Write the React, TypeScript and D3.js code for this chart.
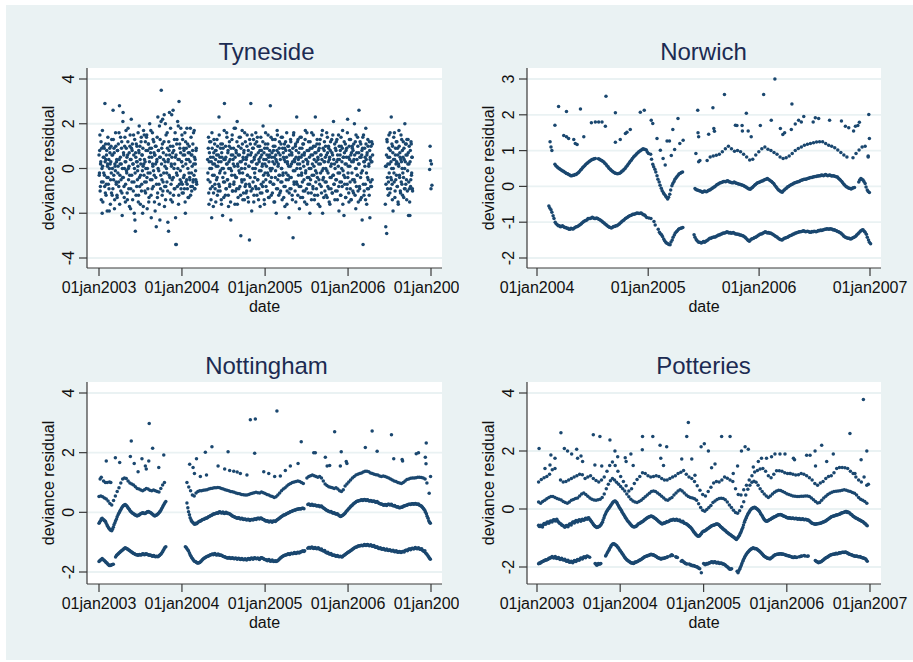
import React from 'react';
import * as d3 from 'd3';

// ---------------- DATA ----------------
// Dates are day offsets from a base date; values are deviance residuals.

// Tyneside (base 01jan2003)
const TYN_A_FROM = 0, TYN_A_STEP = 2;
const TYN_A = [
  0.6, -0.2, 1.5, -0.8, 0.3, -1.4, 0.9, -2.0, 0.1, -0.6, 1.0, 0.5, -0.3, 2.9, -1.1, 0.4, -0.7, 0.8, -1.9, 0.2,
  -0.4, 1.1, -0.9, 0.0, 0.7, -1.6, 0.3, -0.2, 1.3, -1.2, 0.6, 2.6, -0.5, 0.9, -1.8, 0.2, -0.1, 1.0, -0.7, 0.4,
  -1.3, 0.8, 0.1, -0.6, 1.6, 2.8, -0.3, 0.5, -1.0, 0.2, 1.2, -2.1, -0.4, 2.5, 0.7, -0.8, 0.0, 1.4, -1.5, 0.3,
  0.9, -0.2, -1.1, 0.6, 1.8, -0.5, 0.1, -1.7, 1.0, 0.4, -0.9, 2.2, -0.3, 0.8, -1.4, 0.2, 1.5, -0.6, 0.0, -2.3,
  -2.8, 0.5, 1.1, -0.8, 0.3, -0.1, 1.6, -1.2, 0.7, -0.4, 1.0, -1.6, 0.2, 1.4, -0.7, 0.6, -2.0, 0.1, 1.7, -0.3,
  0.4, -1.0, 1.2, 0.0, -0.6, 1.5, -1.8, 0.8, -0.2, 1.1, -1.3, 0.3, 0.9, -0.5, 1.7, -2.2, 0.5, -0.9, 0.2, 1.3,
  -0.1, 0.7, -1.5, 0.6, 1.0, -0.4, -2.6, 0.3, 1.4, -1.1, 0.0, 0.8, -0.7, 1.9, -2.3, 0.5, -0.3, 3.5, 0.9, -1.2,
  2.2, -0.6, 0.4, 1.2, -1.7, 0.1, 2.0, -0.8, 0.6, -0.2, 1.6, -1.0, 0.3, -2.8, 0.8, 2.5, -0.4, 1.0, -1.4, 0.2,
  2.4, -0.5, 0.7, 2.6, -1.2, 0.0, 1.3, -0.9, 0.5, -3.4, -3.4, 1.1, -0.3, 2.1, 0.4, -1.6, 3.0, -0.7, 0.9, -0.1,
  1.8, -0.6, 0.3, -1.1, 1.3, 0.6, -0.4, 0.8, -0.9, 1.6, -2.0, 0.2, 0.9, -0.5, -0.7, 1.1, -1.3, 0.4, -0.2, 0.7,
  -0.5, 1.8, -0.8, 0.6, -1.0, 0.1, 0.8, -0.6, 1.6, -0.3, 0.5, -0.9, 0.2, -0.5, 0.9, -0.7,
];
const TYN_A2_FROM = 1, TYN_A2_STEP = 2;
const TYN_A2 = [
  -0.3, 0.8, -1.0, 0.2, 1.2, -0.6, 0.0, 1.7, -1.5, 0.5, -0.2, 0.9, -0.8, 0.3, 1.1, -1.2, 0.6, -0.4, 0.1, 1.4,
  -0.7, 0.4, -1.9, 0.9, 0.2, -0.5, 1.0, -1.1, 0.6, 0.0, -0.9, 1.3, -0.3, 0.7, -1.4, 0.1, 1.6, -0.6, 0.3, -1.2,
  0.8, -0.2, 1.1, -0.8, 0.4, -1.6, 0.2, 1.4, -0.5, 0.9, -1.1, 0.0, 2.1, -0.4, 0.6, -1.3, 1.0, 0.3, -0.7, 1.7,
  -0.1, 0.5, -1.4, 1.2, 0.0, -0.9, 0.7, -0.3, 1.5, -1.8, 0.4, 0.9, -0.6, 1.1, 0.2, -1.0, 0.6, -2.0, 1.3, -0.2,
  0.7, -1.2, 0.3, 1.0, -0.5, 0.1, -1.5, 0.8, 1.9, -0.8, 0.4, -0.3, 1.2, -1.0, 0.6, -0.1, 0.9, -1.7, 0.2, 1.5,
  -0.6, 0.3, -1.1, 0.8, 1.4, -0.4, 0.0, -0.9, 1.1, -1.5, 0.5, 2.0, -0.2, 0.7, -1.2, 0.9, -0.5, 1.6, 0.1, -0.8,
  1.2, -0.3, 0.6, -1.9, 0.2, 1.0, -0.7, 0.4, -1.3, 2.3, 0.8, -0.1, -1.6, 0.5, 1.3, -0.9, 2.1, 0.2, -0.5, 1.1,
  -1.0, 0.7, -0.2, 2.4, -0.8, 0.3, -1.4, 1.5, 0.0, -0.6, 0.9, -2.4, 0.4, 1.2, -0.3, 0.6, -1.1, 1.8, -0.7, 0.1,
  0.5, -1.5, 1.0, -0.4, 0.8, -0.9, 0.2, 1.6, -2.2, 0.6, -0.2, 1.3, -0.8, 0.0, 1.9, -1.2, 0.4, 1.1, -0.5, 0.7,
  -0.9, 0.3, 1.5, -0.7, 0.1, -1.1, 0.9, -0.3, 0.6, -1.5, 1.2, -0.6, 0.4, 1.8, -0.9, 0.0, 0.7, -1.3, 1.0, -0.4,
  0.3, -1.2, 1.4, -0.2, 0.6, -0.8, 1.1, -0.5, 0.2, 1.7, -0.9, 0.4, -0.1, 0.8, -0.6,
];
const TYN_B_FROM = 478, TYN_B_STEP = 2;
const TYN_B = [
  0.4, -0.5, 1.4, -1.6, 0.7, 0.0, -0.9, 1.2, 0.3, -2.2, 0.9, -0.3, 0.5, -1.1, 1.3, 0.2, -0.7, 0.8, -1.5, 0.1,
  0.6, -0.4, 1.0, -1.0, 0.3, 2.3, -0.8, 0.5, -0.1, 1.1, -1.4, 0.7, 0.0, -2.1, 0.9, -0.6, 0.4, 2.9, -0.2, -1.2,
  0.5, -0.9, 1.6, 0.2, -0.5, 0.8, -1.7, 0.3, 1.2, -0.7, 0.0, -2.3, 0.6, -0.3, 1.5, -1.0, 0.4, 0.9, -0.6, 0.1,
  -1.6, 1.8, -0.4, 0.7, -0.9, 2.1, 0.2, -1.3, 1.0, -0.1, 0.6, -0.8, 1.4, -3.0, 0.3, -0.5, 1.7, -0.2, 0.5, -1.1,
  0.8, -1.4, 0.0, 1.2, -0.7, 0.4, -1.0, 1.5, -0.3, 0.6, -1.5, 0.1, -3.2, -0.8, 1.1, 2.9, 0.7, -1.9, 0.3, 0.9,
  -0.6, 1.3, -1.2, 0.5, -0.4, 0.0, 1.6, -0.9, 1.2, 0.2, -0.5, 1.0, -1.4, 0.4, -0.1, 0.8, -1.1, 1.4, -0.7, 0.6,
  0.1, -0.8, 1.9, -0.3, 0.7, -1.6, 0.2, 1.1, -0.5, 0.4, -1.0, 0.9, -0.2, 1.5, -1.3, 0.3, 0.6, -0.6, 2.8, -0.1,
  -1.2, 0.5, 0.0, 1.3, -0.7, 0.8, -1.5, 0.2, 1.0, -0.4, 0.6, -2.0, 0.3, 1.7, -0.9, 0.1, 0.7, -0.3, 1.2, -1.1,
  0.4, -0.6, 1.4, 0.0, -1.4, 0.9, -0.2, 0.5, -0.8, 1.1, -1.7, 0.3, 0.8, -0.5, 1.6, -1.0, 0.2, -0.3, 1.0, -2.2,
  0.6, -0.9, 0.1, 1.2, -0.4, 0.7, -1.2, 0.3, -3.1, 1.5, -0.6, 0.4, -0.1, 1.0, -1.5, 0.8, 2.3, -0.7, 0.2, 1.3,
  -0.3, 0.5, -1.8, 0.9, 0.0, -0.8, 1.4, -0.2, 0.6, -1.3, 0.3, 1.1, -0.5, 0.7, -1.0, 1.7, -0.1, 0.4, -1.6, 0.8,
  0.2, -0.7, 1.2, -0.4, 0.5, -2.0, 0.9, 0.0, -1.1, 1.6, -0.3, 0.6, -0.9, 1.0, 0.1, -1.4, 0.7, 2.3, -0.6, 0.3,
  -0.2, 1.3, -1.2, 0.4, 0.8, -0.5, 1.1, -1.7, 0.2, 0.6, -0.8, 1.5, -0.1, -2.0, 0.9, -0.4, 0.3, 1.2, -1.0, 0.5,
  0.0, -0.6, 1.6, -1.3, 0.7, -0.2, 1.0, -0.9, 0.4, -1.6, 0.8, 0.1, -0.4, 1.3, -1.1, 0.6, -0.3, 2.1, -0.7, 0.2,
  -1.4, 0.9, -0.5, 1.2, 0.3, -1.0, 0.6, -0.2, 1.5, -1.9, 0.4, -0.6, 0.8, -1.2, 1.0, 0.0, -0.8, 1.7, -0.1, 0.5,
  -2.1, 0.7, -0.4, 1.1, -1.3, 0.2, 0.9, -0.7, 2.2, -0.2, 0.5, -1.5, 1.3, 0.1, -0.9, 0.6, -1.4, 0.3, 1.0, -0.5,
  0.8, -1.1, 0.4, 2.0, -0.6, 1.2, -1.8, 0.0, 0.7, -0.3, 1.4, -1.0, 0.2, 2.6, -0.8, 0.5, -1.4, 1.1, -0.2, 0.6,
  -2.3, 0.9, -3.4, 1.5, -1.2, 0.3, 0.1, -0.7, 1.8, 0.4, -1.6, 0.7, -0.4, 1.0, -0.9, 0.2, 1.2, -2.2, 0.5, -0.8,
  0.3, 1.2, -0.5, 0.6,
];
const TYN_B2_FROM = 479, TYN_B2_STEP = 2;
const TYN_B2 = [
  -0.2, 0.9, -1.1, 0.3, 1.2, -0.6, 0.5, -1.4, 0.0, 1.6, -0.8, 0.2, -1.7, 0.7, -0.3, 1.1, -0.9, 0.4, 0.8, -0.5,
  1.3, -1.2, 0.1, 0.6, -0.7, 1.5, -0.2, -1.0, 0.9, 0.3, -1.6, 0.5, 1.1, -0.4, 0.0, -1.3, 1.7, -0.6, 0.4, 1.0,
  -0.9, 0.2, 1.4, -0.5, 0.7, -1.2, 0.0, 1.0, -0.8, 0.4, -1.5, 0.9, -0.1, 1.3, -1.0, 0.6, 0.2, -0.7, 1.8, -0.3,
  0.5, -1.0, 0.8, -0.4, 1.2, -1.6, 0.1, 0.6, -0.9, 1.4, -0.2, 0.3, -1.2, 0.9, 0.0, -0.6, 1.1, -1.4, 0.4, 0.7,
  -0.5, 1.6, -0.8, 0.2, -1.1, 0.5, 1.0, -0.3, -1.3, 0.8, 0.1, -0.7, 1.3, -0.4, 0.6, -1.0, 0.3, 1.5, -0.9, 0.0,
  0.9, -1.5, 0.4, -0.2, 1.1, -0.8, 0.6, 0.2, -1.2, 1.4, -0.5, 0.7, -0.9, 0.3, 1.0, -1.7, 0.5, -0.1, 0.8, -1.1,
  0.2, 1.2, -0.6, 0.4, -1.4, 0.9, -0.2, 1.6, -0.8, 0.1, 0.6, -1.0, 1.1, -0.3, 0.5, -1.3, 0.8, 0.0, -0.6, 1.4,
  -0.4, 0.7, -1.1, 0.3, 1.0, -0.7, 0.5, -1.5, 1.3, -0.1, 0.4, -0.9, 0.8, 1.5, -0.5, 0.2, -1.2, 0.9, -0.3, 0.6,
  -1.0, 1.1, 0.0, -0.6, 1.4, -0.3, 0.7, -1.3, 0.4, 0.9, -0.8, 1.2, -0.2, 0.5, -1.6, 0.3, 1.0, -0.5, 0.1, -1.1,
  0.8, -0.4, 1.3, -0.9, 0.2, 0.6, -1.4, 0.9, -0.1, 1.6, -0.7, 0.3, -1.0, 1.1, 0.5, -0.6, 0.0, 1.2, -1.2, 0.4,
  0.7, -0.8, 0.2, 1.4, -1.3, 0.5, -0.3, 0.9, -0.6, 1.1, -1.0, 0.1, 0.6, -1.5, 1.3, -0.2, 0.4, -0.9, 1.6, -0.4,
  0.3, -1.1, 0.8, 0.0, -0.7, 1.2, -0.5, 0.6, -1.4, 0.9, 0.2, -0.8, 1.5, -0.3, 0.4, -1.2, 1.0, -0.1, 0.7, -0.9,
  1.1, -0.4, 0.5, -1.6, 0.2, 0.9, -0.7, 1.3, -0.2, 0.6, -1.1, 0.4, 1.7, -0.5, 0.0, -1.3, 0.8, 0.3, -0.6, 1.0,
  -1.2, 0.6, -0.1, 1.4, -0.8, 0.3, 0.9, -1.5, 0.5, -0.4, 1.2, -0.9, 0.2, 0.7, -1.1, 1.5, -0.3, 0.4, -0.7, 1.1,
  0.0, -1.0, 0.8, -0.5, 1.3, -1.4, 0.4, 0.1, -0.8, 1.0, -0.2, 0.6, -1.2, 1.4, -0.6, 0.3, 0.9, -1.6, 0.5, -0.3,
  1.2, -0.7, 0.2, -1.3, 0.8, 0.5, -0.9, 1.6, -0.4, 0.1, -1.1, 1.0, 0.4, -0.6, 1.3, -1.4, 0.7, -0.2, 0.9, -1.0,
  0.3, 1.1, -0.5, 0.6, -1.2, 0.0, 1.5, -0.8, 0.4, -0.3, 1.0, -1.5, 0.7, 0.2, -0.9, 1.2, -0.4, 0.5, -1.3, 0.8,
  -0.1, 1.4, -0.7, 0.3, -1.0, 0.9, 0.5, -1.4, 1.1, -0.2, 0.6, -0.9, 1.3, -0.5, 0.1, -1.2, 0.8, 0.4, -0.6, 1.0,
  -0.8, 0.3, 1.1,
];
const TYN_C_FROM = 1260, TYN_C_STEP = 2;
const TYN_C = [
  -1.6, -2.6, 0.1, -2.9, 1.2, -0.9, 0.5, -0.6, 1.5, 0.2, -1.1, 0.8, -0.4, 2.3, 0.0, -0.7, 1.0, -1.9, 0.4, -0.2,
  1.6, -1.3, 0.6, -0.5, 1.2, 0.3, -0.8, 0.9, -1.5, 0.2, 1.7, -0.3, 0.7, -1.0, 0.4, -0.6, 1.3, 0.0, -1.2, 0.5,
  -0.4, 0.9, -0.9, 2.0, 0.3, -0.7, 1.1, -1.4, 0.6, -0.1, 1.3, -2.1, 0.2, -0.9, -2.1, 0.8, -0.5, 1.1, -0.2, 0.5, -1.0,
];
const TYN_C2_FROM = 1261, TYN_C2_STEP = 2;
const TYN_C2 = [
  0.1, -0.7, 0.6, 1.3, -0.4, 0.2, -1.2, 0.9, -0.2, 0.5, 1.6, -0.9, 0.3, -0.5, 1.1, -1.4, 0.7, 0.0, 1.4, -0.6,
  0.4, -1.0, 0.9, 0.2, -0.3, 1.2, -0.8, 0.6, -1.6, 0.1, 1.0, -0.4, 0.5, -1.1, 1.5, 0.3, -0.7, 0.8, -0.2, 1.2,
  -1.3, 0.4, 0.0, -0.9, 1.1, 0.6, -0.5, 1.3, -1.0, 0.2, 0.7, -0.6, 1.0, -1.5, 0.3, -0.8, 1.2, -0.3, 0.5, -0.9,
];
const TYN_D: [number, number][] = [[1455, -0.05], [1457, 1.0], [1459, 0.35], [1461, -0.9], [1463, 0.2], [1465, -0.75]];

// Norwich (base 01jan2004)
const NOR_C0_A_FROM = 39, NOR_C0_A_STEP = 7;
const NOR_C0_A = [
  -0.55, -0.65, -0.82, -1.0, -1.07, -1.1, -1.12, -1.13, -1.15, -1.17, -1.2, -1.18, -1.16, -1.13, -1.1, -1.06,
  -1.0, -0.96, -0.93, -0.9, -0.88, -0.88, -0.9, -0.9, -0.93, -0.97, -1.02, -1.07, -1.12, -1.15, -1.14, -1.12,
  -1.1, -1.06, -1.0, -0.95, -0.9, -0.86, -0.82, -0.8, -0.78, -0.76, -0.75, -0.75, -0.77, -0.8, -0.87,
  -0.88, -0.9, null, -1.08, null, -1.28, -1.35, -1.47, -1.56, -1.6, -1.63, -1.5, -1.36, -1.27, -1.2, -1.17, -1.15,
];
const NOR_C0_A2_FROM = 42, NOR_C0_A2_STEP = 7;
const NOR_C0_A2 = [
  -0.6, -0.72, -0.9, -1.04, -1.1, -1.13, -1.1, -1.15, -1.17, -1.2, -1.17, -1.19, -1.14, -1.12, -1.08, -1.03,
  -0.98, -0.95, -0.9, -0.9, -0.86, -0.9, -0.88, -0.92, -0.95, -1.0, -1.05, -1.1, -1.14, -1.16, -1.12, -1.1,
  -1.08, -1.03, -0.97, -0.93, -0.88, -0.84, -0.81, -0.78, -0.77, -0.74, -0.76, -0.74, -0.79, -0.83, null,
  null, null, -0.98, null, -1.2, -1.32, -1.4, -1.52, -1.59, -1.62, -1.55, -1.42, -1.3, -1.24, -1.18, -1.16, null,
];
const NOR_C0_B_FROM = 517, NOR_C0_B_STEP = 7;
const NOR_C0_B = [
  -1.35, -1.48, -1.55, -1.57, -1.56, -1.56, -1.52, -1.47, -1.45, -1.42, -1.41, -1.38, -1.36, -1.33, -1.3, -1.29,
  -1.28, -1.29, -1.3, -1.31, -1.33, -1.34, -1.36, -1.38, -1.42, -1.48, -1.53, -1.47, -1.45, -1.42, -1.38, -1.34,
  -1.32, -1.29, -1.28, -1.29, -1.3, -1.34, -1.38, -1.41, -1.46, -1.49, -1.47, -1.44, -1.42, -1.38, -1.36, -1.33,
  -1.3, -1.28, -1.27, -1.25, -1.25, -1.26, -1.27, -1.28, -1.27, -1.26, -1.25, -1.24, -1.23, -1.21, -1.2, -1.19,
  -1.18, -1.2, -1.21, -1.24, -1.27, -1.3, -1.36, -1.41, -1.44, -1.45, -1.46, -1.43, -1.39, -1.33, -1.27, -1.22,
  -1.25, -1.34, -1.5, -1.6,
];
const NOR_C0_B2_FROM = 520, NOR_C0_B2_STEP = 7;
const NOR_C0_B2 = [
  -1.42, -1.52, -1.56, -1.58, -1.54, -1.53, -1.5, -1.45, -1.43, -1.41, -1.39, -1.36, -1.34, -1.31, -1.3, -1.27,
  -1.3, -1.31, -1.29, -1.33, -1.34, -1.36, -1.37, -1.4, -1.45, -1.51, -1.5, -1.46, -1.43, -1.4, -1.36, -1.33,
  -1.3, -1.27, -1.3, -1.31, -1.32, -1.36, -1.4, -1.44, -1.48, -1.5, -1.45, -1.43, -1.4, -1.37, -1.34, -1.31,
  -1.29, -1.27, -1.26, -1.24, -1.27, -1.25, -1.28, -1.26, -1.25, -1.27, -1.23, -1.22, -1.22, -1.2, -1.18, -1.2,
  -1.19, -1.22, -1.23, -1.26, -1.29, -1.33, -1.39, -1.43, -1.45, -1.47, -1.44, -1.41, -1.36, -1.3, -1.24, -1.21,
  -1.28, -1.42, -1.56, null,
];
const NOR_C1_A_FROM = 59, NOR_C1_A_STEP = 7;
const NOR_C1_A = [
  0.62, 0.55, 0.5, 0.46, 0.42, 0.38, 0.35, 0.32, 0.3, 0.31, 0.33, 0.38, 0.45, 0.52, 0.58, 0.64, 0.69, 0.73, 0.76,
  0.78, null, 0.76, 0.72, 0.68, 0.62, 0.55, 0.48, 0.42, 0.38, 0.36, 0.36, 0.39, 0.44, 0.5, 0.58, 0.66, 0.74, 0.82,
  0.88, 0.94, 0.99, 1.03, 1.04, 1.02, 0.92, 0.9, 0.62, 0.48, 0.3, 0.12, -0.05, -0.18, -0.26, -0.35, -0.22, 0.02,
  0.14, 0.24, 0.32, 0.37, 0.4,
];
const NOR_C1_A2_FROM = 62, NOR_C1_A2_STEP = 7;
const NOR_C1_A2 = [
  0.58, 0.52, 0.48, 0.44, 0.4, 0.36, 0.33, 0.3, 0.31, 0.33, 0.36, 0.41, 0.48, 0.55, 0.61, 0.66, 0.71, 0.75, 0.77,
  null, 0.77, 0.74, 0.7, 0.65, 0.58, 0.51, 0.45, 0.4, 0.37, 0.35, 0.37, 0.42, 0.47, 0.54, 0.62, 0.7, 0.78, 0.85,
  0.91, 0.97, 1.01, 1.05, 1.03, 0.96, null, 0.76, 0.55, 0.4, 0.2, 0.03, -0.12, -0.22, -0.3, -0.3, -0.1, 0.08,
  0.2, 0.28, 0.35, 0.39, null,
];
const NOR_C1_B_FROM = 520, NOR_C1_B_STEP = 7;
const NOR_C1_B = [
  -0.06, -0.1, -0.12, -0.14, -0.15, -0.14, -0.13, -0.1, -0.06, -0.02, 0.03, 0.07, 0.1, 0.12, 0.14, 0.15, 0.13,
  0.11, 0.1, 0.1, 0.08, 0.06, 0.04, 0.02, -0.02, -0.06, -0.08, -0.03, 0.03, 0.08, 0.11, 0.14, 0.16, 0.19, 0.22,
  0.18, 0.14, 0.08, 0.0, -0.08, -0.13, -0.16, -0.1, -0.05, 0.0, 0.04, 0.07, 0.1, 0.12, 0.14, 0.17, 0.19, 0.2,
  0.22, 0.24, 0.25, 0.27, 0.28, 0.29, 0.3, 0.31, 0.32, 0.31, 0.31, 0.3, 0.3, 0.28, 0.26, 0.2, 0.14, 0.06, 0.0,
  -0.04, -0.06, -0.05, -0.03, null, 0.12, 0.22, 0.18, 0.08, -0.1, -0.17,
];
const NOR_C1_B2_FROM = 523, NOR_C1_B2_STEP = 7;
const NOR_C1_B2 = [
  -0.09, -0.11, -0.13, -0.16, -0.13, -0.15, -0.11, -0.08, -0.04, 0.0, 0.05, 0.09, 0.11, 0.14, 0.13, 0.16, 0.12,
  0.1, 0.12, 0.09, 0.07, 0.05, 0.03, 0.0, -0.04, -0.07, -0.05, 0.0, 0.05, 0.1, 0.12, 0.15, 0.18, 0.2, 0.2,
  0.16, 0.11, 0.04, -0.04, -0.11, -0.15, -0.13, -0.07, -0.02, 0.02, 0.05, 0.09, 0.11, 0.13, 0.16, 0.18, 0.2, 0.21,
  0.23, 0.25, 0.26, 0.28, 0.29, 0.3, 0.32, 0.3, 0.33, 0.3, 0.32, 0.29, 0.29, 0.27, 0.23, 0.17, 0.1, 0.03, -0.02,
  -0.05, -0.07, -0.04, null, null, 0.18, 0.2, 0.14, -0.02, -0.14, null,
];
const NOR_C2_B_FROM = 560, NOR_C2_B_STEP = 10;
const NOR_C2_B = [
  0.72, 0.82, 0.85, 0.87, 0.9, 0.97, 1.05, 1.12, 1.05, 0.98, 1.0, 0.97, 0.9, 0.82, 0.74, 0.76, 0.88, 0.97, 1.05,
  1.1, 1.04, 1.0, 0.95, 0.9, 0.82, 0.78, 0.8, 0.85, 0.92, 1.0, 1.06, 1.1, 1.15, 1.18, 1.2, 1.22, 1.24, 1.25,
  1.25, 1.2, 1.15, 1.12, 1.08, 1.02, 0.95, 0.88, 0.82, null, 0.8, 0.92, 1.02, 1.1, 1.12, 0.85,
];
const NOR_TOP: [number, number][] = [
  [43, 1.25], [46, 1.1], [49, 1.0], [59, 1.71], [71, 2.23], [97, 2.09], [88, 1.42], [97, 1.39], [104, 1.34],
  [121, 1.31], [126, 1.2], [132, 1.17], [143, 2.16], [154, 1.39], [179, 1.78], [192, 1.8], [203, 1.8], [214, 1.8],
  [225, 1.68], [227, 2.52], [258, 2.06], [258, 1.23], [274, 1.31], [291, 1.48], [296, 1.51], [307, 1.59],
  [340, 2.07], [353, 2.13], [376, 1.85], [381, 1.76], [395, 1.34], [406, 1.01], [415, 0.78], [422, 0.6],
  [428, 1.27], [436, 1.27], [442, 0.86], [447, 1.59], [453, 1.03], [464, 1.9], [470, 1.2], [481, 1.29],
  [529, 2.13], [530, 1.5], [532, 1.39], [523, 0.92], [532, 0.69], [536, 0.72], [565, 1.46], [582, 1.62],
  [584, 1.54], [579, 2.2], [617, 2.57], [653, 1.71], [658, 1.7], [675, 1.7], [676, 1.55], [695, 1.55],
  [705, 1.39], [689, 2.04], [735, 1.7], [746, 2.57], [771, 1.85], [783, 3.0], [801, 1.62], [809, 1.45],
  [815, 1.5], [839, 2.3], [837, 1.59], [850, 1.74], [861, 1.85], [870, 1.8], [878, 1.95], [909, 1.8],
  [916, 1.92], [927, 1.9], [963, 1.85], [1002, 1.83], [1015, 1.68], [1026, 1.64], [1042, 1.55], [1048, 1.68],
  [1056, 1.7], [1061, 1.79], [1092, 2.01], [1094, 1.34], [1090, 0.82],
];

// Nottingham (base 01jan2003)
const NOT_C0_A_FROM = 0, NOT_C0_A_STEP = 7;
const NOT_C0_A = [
  -1.65, -1.6, -1.55, -1.6, -1.65, -1.7, -1.76, -1.78, -1.76, -1.74, null, -1.45, -1.4, -1.35, -1.3, -1.25,
  -1.21, -1.2, -1.23, -1.27, -1.31, -1.35, -1.38, -1.41, -1.42, -1.43, -1.42, -1.41, -1.4, -1.41, -1.4, -1.42,
  -1.43, -1.45, -1.46, -1.47, -1.48, -1.49, -1.45, -1.4, -1.32, -1.22, -1.15,
];
const NOT_C0_A2_FROM = 3, NOT_C0_A2_STEP = 7;
const NOT_C0_A2 = [
  -1.62, -1.58, -1.58, -1.62, -1.68, -1.73, -1.78, -1.77, -1.75, null, -1.5, -1.42, -1.37, -1.32, -1.28, -1.23,
  -1.19, -1.22, -1.25, -1.29, -1.33, -1.37, -1.4, -1.42, -1.44, -1.41, -1.43, -1.39, -1.42, -1.39, -1.41, -1.44,
  -1.44, -1.47, -1.45, -1.49, -1.47, -1.47, -1.42, -1.36, -1.27, -1.18, null,
];
const NOT_C0_B_FROM = 380, NOT_C0_B_STEP = 7;
const NOT_C0_B = [
  -1.15, -1.22, -1.3, -1.42, -1.52, -1.6, -1.65, -1.68, -1.7, -1.68, -1.63, -1.57, -1.53, -1.5, -1.47, -1.45,
  -1.42, -1.4, -1.4, -1.41, -1.42, -1.42, -1.43, -1.45, -1.48, -1.5, -1.52, -1.53, -1.53, -1.54, -1.54, -1.55,
  -1.55, -1.55, -1.56, -1.57, -1.57, -1.58, -1.58, -1.57, -1.56, -1.55, -1.55, -1.54, -1.54, -1.55, -1.56,
  -1.55, -1.52, -1.55, -1.58, -1.6, -1.6, -1.62, -1.62, -1.63, -1.64, -1.65, -1.62, -1.57, -1.52, -1.48, -1.45,
  -1.43, -1.41, -1.4, -1.39, -1.38, -1.37, -1.37, -1.36, -1.35, -1.34, -1.32, -1.3, -1.29, null, -1.2, -1.18,
  -1.18, -1.19, -1.2, -1.2, -1.21, -1.22, -1.25, -1.27, -1.3, -1.33, -1.36, -1.38, -1.4, -1.42, -1.44, -1.45,
  -1.46, -1.47, -1.48, -1.49, -1.47, -1.43, -1.39, -1.35, -1.32, -1.28, -1.24, -1.2, -1.17, -1.15, -1.13,
  -1.12, -1.11, -1.1, -1.1, -1.09, -1.1, -1.11, -1.12, -1.13, -1.15, -1.17, -1.19, -1.21, -1.22, -1.23, -1.24,
  -1.25, -1.26, -1.27, -1.28, -1.29, -1.3, -1.31, -1.32, -1.33, -1.33, -1.33, -1.31, -1.29, -1.27, -1.25,
  -1.23, -1.22, -1.21, -1.2, -1.2, -1.21, -1.22, -1.24, -1.27, -1.31, -1.36, -1.42, -1.5, -1.57,
];
const NOT_C0_B2_FROM = 384, NOT_C0_B2_STEP = 7;
const NOT_C0_B2 = [
  -1.18, -1.26, -1.36, -1.47, -1.56, -1.63, -1.66, -1.7, -1.69, -1.66, -1.6, -1.55, -1.51, -1.48, -1.46, -1.43,
  -1.41, -1.42, -1.38, -1.43, -1.4, -1.44, -1.44, -1.47, -1.49, -1.51, -1.53, -1.51, -1.55, -1.52, -1.56, -1.53,
  -1.57, -1.54, -1.58, -1.55, -1.59, -1.56, -1.6, -1.55, -1.58, -1.53, -1.57, -1.52, -1.56, -1.53, -1.58,
  -1.52, -1.54, -1.57, -1.59, -1.62, -1.58, -1.64, -1.6, -1.65, -1.62, -1.63, -1.6, -1.54, -1.5, -1.46, -1.44,
  -1.42, -1.39, -1.41, -1.37, -1.39, -1.35, -1.38, -1.34, -1.36, -1.32, -1.3, -1.31, null, null, -1.18, -1.2,
  -1.16, -1.21, -1.18, -1.22, -1.19, -1.24, -1.23, -1.29, -1.28, -1.35, -1.34, -1.4, -1.38, -1.44, -1.43, -1.47,
  -1.45, -1.49, -1.47, -1.5, -1.45, -1.41, -1.37, -1.33, -1.3, -1.26, -1.22, -1.18, -1.16, -1.13, -1.12,
  -1.1, -1.12, -1.08, -1.11, -1.08, -1.12, -1.09, -1.14, -1.11, -1.17, -1.15, -1.21, -1.19, -1.24, -1.21, -1.26,
  -1.23, -1.28, -1.25, -1.3, -1.27, -1.32, -1.29, -1.34, -1.31, -1.35, -1.31, -1.33, -1.27, -1.29, -1.23,
  -1.25, -1.2, -1.23, -1.18, -1.22, -1.19, -1.24, -1.22, -1.29, -1.29, -1.39, -1.46, -1.54, null,
];
const NOT_C1_A_FROM = 0, NOT_C1_A_STEP = 7;
const NOT_C1_A = [
  -0.37, -0.28, -0.2, -0.25, -0.3, -0.42, -0.52, -0.58, -0.62, -0.5, -0.35, -0.22, -0.08, 0.02, 0.12, 0.2, 0.25,
  0.24, 0.18, 0.1, 0.03, -0.02, -0.06, -0.09, -0.12, -0.1, -0.06, -0.03, -0.02, -0.04, 0.0, 0.03, 0.0, -0.03,
  -0.08, -0.12, -0.1, -0.06, 0.0, 0.08, 0.18, 0.28, 0.36,
];
const NOT_C1_A2_FROM = 3, NOT_C1_A2_STEP = 7;
const NOT_C1_A2 = [
  -0.32, -0.22, -0.24, -0.28, -0.36, -0.47, -0.55, -0.6, -0.57, -0.42, -0.28, -0.15, -0.03, 0.07, 0.16, 0.23, 0.26,
  0.21, 0.14, 0.06, 0.0, -0.04, -0.08, -0.11, -0.1, -0.08, -0.04, -0.01, -0.04, -0.02, 0.02, 0.01, -0.01, -0.06,
  -0.1, -0.11, -0.08, -0.03, 0.04, 0.13, 0.23, 0.32, null,
];
const NOT_C1_B_FROM = 387, NOT_C1_B_STEP = 7;
const NOT_C1_B = [
  0.31, 0.02, -0.18, -0.3, -0.36, -0.4, -0.38, -0.33, -0.3, -0.27, -0.24, -0.22, -0.2, -0.17, -0.14, -0.11,
  -0.08, -0.06, -0.04, -0.02, 0.0, 0.0, -0.01, -0.02, -0.02, -0.02, -0.03, -0.06, -0.1, -0.13, -0.16, -0.18,
  -0.19, -0.2, -0.21, -0.22, -0.23, -0.24, -0.24, -0.25, -0.25, -0.24, -0.23, -0.22, -0.21, -0.2, -0.2, -0.21,
  -0.24, -0.27, -0.29, -0.3, -0.31, -0.31, -0.3, -0.3, -0.28, -0.24, -0.2, -0.16, -0.12, -0.09, -0.07, -0.04,
  -0.01, 0.02, 0.04, 0.06, 0.08, 0.1, 0.11, 0.12, 0.13, 0.14, null, null, 0.26, 0.26, 0.25, 0.25, 0.24, 0.23,
  0.22, 0.21, 0.2, 0.18, 0.14, 0.1, 0.06, 0.04, 0.02, 0.0, -0.02, -0.04, -0.06, -0.08, -0.12, -0.13, -0.1,
  -0.05, 0.02, 0.08, 0.14, 0.2, 0.25, 0.3, 0.34, 0.37, 0.39, 0.4, 0.41, 0.42, 0.42, 0.41, 0.4, 0.39, 0.38,
  0.37, 0.36, 0.35, 0.33, 0.3, 0.28, 0.26, 0.25, 0.25, 0.26, 0.27, 0.26, 0.24, 0.22, 0.2, 0.18, 0.17, 0.16,
  0.17, 0.2, 0.22, 0.24, 0.26, 0.27, 0.28, 0.29, 0.29, 0.28, 0.27, 0.25, 0.22, 0.17, 0.1, 0.0, -0.13, -0.28,
  -0.37,
];
const NOT_C1_B2_FROM = 391, NOT_C1_B2_STEP = 7;
const NOT_C1_B2 = [
  0.15, -0.08, -0.25, -0.33, -0.39, -0.37, -0.36, -0.31, -0.29, -0.25, -0.23, -0.2, -0.19, -0.15, -0.12, -0.1,
  -0.06, -0.05, -0.02, -0.03, 0.02, -0.02, 0.01, -0.04, 0.0, -0.04, -0.05, -0.08, -0.12, -0.15, -0.17, -0.2,
  -0.18, -0.22, -0.2, -0.24, -0.22, -0.26, -0.23, -0.27, -0.24, -0.26, -0.22, -0.24, -0.2, -0.22, -0.19, -0.23,
  -0.25, -0.29, -0.28, -0.32, -0.29, -0.33, -0.29, -0.31, -0.26, -0.22, -0.18, -0.14, -0.1, -0.08, -0.05, -0.02,
  0.0, 0.03, 0.05, 0.07, 0.09, 0.1, 0.12, 0.11, 0.14, 0.12, null, null, 0.28, 0.24, 0.27, 0.23, 0.25, 0.21,
  0.23, 0.19, 0.21, 0.16, 0.12, 0.08, 0.05, 0.02, 0.03, -0.02, -0.01, -0.06, -0.05, -0.1, -0.14, -0.11, -0.07,
  -0.02, 0.05, 0.11, 0.17, 0.22, 0.28, 0.32, 0.36, 0.38, 0.4, 0.42, 0.4, 0.43, 0.4, 0.42, 0.38, 0.4, 0.36,
  0.38, 0.34, 0.36, 0.31, 0.29, 0.27, 0.24, 0.26, 0.23, 0.27, 0.25, 0.27, 0.22, 0.23, 0.19, 0.19, 0.15, 0.17,
  0.18, 0.21, 0.23, 0.25, 0.27, 0.26, 0.29, 0.27, 0.3, 0.27, 0.28, 0.23, 0.2, 0.14, 0.06, -0.06, -0.2, -0.33,
  null,
];
const NOT_C2_A_FROM = 0, NOT_C2_A_STEP = 8;
const NOT_C2_A = [
  0.53, 0.55, 0.52, 0.48, 0.45, 0.38, 0.3, 0.25, 0.4, 0.55, 0.7, 0.82, 0.98, 1.12, 1.15, 1.13, 1.05, 0.98,
  0.95, 0.92, 0.86, 0.8, 0.78, 0.75, 0.72, 0.76, 0.8, 0.78, 0.74, 0.72, 0.75, 0.72, 0.7, 0.68, 0.8, 0.92, 1.0,
];
const NOT_C2_B_FROM = 387, NOT_C2_B_STEP = 8;
const NOT_C2_B = [
  1.0, 0.85, 0.72, 0.58, 0.55, 0.65, 0.7, 0.72, 0.72, 0.74, 0.75, 0.76, 0.78, 0.8, 0.81, 0.82, 0.82, 0.83, 0.82,
  0.8, 0.78, 0.76, 0.74, 0.72, 0.7, 0.69, 0.67, 0.65, 0.63, 0.62, 0.6, 0.59, 0.58, 0.58, 0.6, 0.62, 0.64, 0.66,
  0.67, 0.66, 0.65, 0.68, 0.66, 0.63, 0.6, 0.58, 0.55, 0.53, 0.5, 0.52, 0.58, 0.65, 0.72, 0.78, 0.82, 0.88,
  0.93, 0.97, 1.0, 1.02, 1.03, 1.05, 1.03, 1.0, 0.97, null, 1.15, 1.2, 1.23, 1.25, 1.23, 1.2, 1.18, 1.2, 1.15,
  1.05, 0.95, 0.9, 0.86, 0.84, 0.82, 0.8, 0.82, 0.78, 0.72, 0.7, 0.76, 0.88, 0.95, 1.02, 1.08, 1.15, 1.2, 1.25,
  1.28, 1.3, 1.32, 1.35, 1.38, 1.38, 1.36, 1.32, 1.3, 1.28, 1.26, 1.25, 1.22, 1.2, 1.22, 1.2, 1.18, 1.15, 1.12,
  1.08, 1.05, 1.03, 1.0, 0.98, 0.97, 1.0, 1.05, 1.1, 1.12, 1.14, 1.15, 1.15, 1.16, 1.18, 1.18, 1.17, 1.15,
  1.12, 0.98, null, 1.2,
];
const NOT_TOP: [number, number][] = [
  [5, 1.12], [10, 1.18], [20, 1.05], [28, 1.0], [36, 1.0], [46, 1.02], [52, 1.0], [32, 1.72], [72, 1.83],
  [91, 1.67], [138, 1.87], [142, 2.39], [155, 1.64], [172, 1.36], [189, 1.8], [204, 1.55], [208, 1.45],
  [219, 1.72], [221, 2.98], [236, 2.15], [263, 1.5], [285, 1.92], [399, 1.61], [414, 1.5], [420, 1.3],
  [429, 1.8], [446, 1.2], [473, 1.25], [468, 2.01], [497, 2.2], [524, 1.55], [553, 1.45], [568, 2.03],
  [575, 1.4], [593, 1.38], [608, 1.35], [622, 1.3], [651, 1.25], [666, 3.1], [688, 3.13], [685, 1.98],
  [725, 1.36], [783, 3.4], [747, 1.3], [773, 1.2], [798, 1.22], [820, 1.4], [842, 1.55], [876, 1.64],
  [890, 2.37], [945, 2.0], [952, 2.0], [996, 1.85], [1004, 1.55], [1015, 1.57], [1037, 2.7], [1062, 1.55],
  [1066, 2.03], [1088, 1.7], [1091, 1.64], [1172, 2.17], [1202, 2.73], [1224, 2.05], [1287, 2.6], [1297, 1.8],
  [1334, 1.77], [1336, 1.72], [1396, 1.96], [1406, 2.0], [1436, 1.85], [1439, 1.63], [1440, 2.32],
  [1453, 0.64],
];

// Potteries (base 01jan2003)
const POT_C0_FROM = 7, POT_C0_STEP = 7;
const POT_C0 = [
  -1.89, -1.87, -1.83, -1.8, -1.78, -1.76, -1.73, -1.7, -1.67, -1.66, -1.67, -1.69, -1.7, -1.71, -1.72, -1.73,
  -1.75, -1.78, -1.8, -1.82, -1.83, -1.83, -1.81, -1.79, -1.77, -1.75, -1.72, -1.7, -1.68, -1.66, -1.64, -1.64,
  -1.66, null, null, null, -1.9, -1.92, -1.9, -1.88, null, null, -1.62, -1.52, -1.42, -1.32, -1.23, -1.2, -1.22,
  -1.27, -1.34, -1.42, -1.5, -1.58, -1.66, -1.73, -1.78, -1.82, -1.86, -1.87, -1.86, -1.84, -1.81, -1.78,
  -1.75, -1.71, -1.67, -1.64, -1.62, -1.6, -1.58, -1.57, -1.58, -1.61, -1.65, -1.68, -1.7, -1.72, -1.71,
  -1.69, -1.67, -1.65, null, -1.6, -1.6, null, -1.65, -1.67, null, null, -1.78, -1.83, -1.87, -1.9, null,
  -1.92, -1.94, -1.95, -1.97, -1.99, -2.02, -2.06, -2.2, null, -1.9, -1.9, -1.9, -1.86, -1.84, -1.83, -1.83,
  -1.84, -1.85, -1.86, -1.87, -1.88, -1.9, -1.93, -1.98, -2.03, -2.08, -2.06, null, null, null, -2.2, -2.08,
  -1.95, -1.8, -1.68, -1.58, -1.5, -1.44, -1.39, -1.36, -1.35, -1.36, -1.39, -1.43, -1.48, -1.54, -1.6, -1.65,
  -1.68, -1.71, -1.72, -1.68, -1.63, -1.59, -1.57, -1.56, -1.55, -1.54, -1.55, -1.57, -1.59, -1.6, -1.62,
  -1.64, -1.66, -1.67, -1.66, -1.66, null, -1.64, -1.62, null, -1.62, null, -1.62, null, null, null, null,
  -1.8, -1.83, -1.84, -1.82, -1.78, -1.73, -1.69, -1.66, -1.62, -1.59, -1.57, -1.56, -1.55, -1.54, -1.53,
  -1.52, -1.5, -1.49, -1.49, -1.5, -1.53, -1.56, -1.58, -1.6, -1.62, -1.63, -1.64, -1.65, -1.66, -1.68, -1.7,
  -1.72, -1.8,
];
const POT_C0_2_FROM = 10, POT_C0_2_STEP = 7;
const POT_C0_2 = [
  -1.86, -1.84, -1.81, -1.78, -1.75, -1.74, -1.7, -1.68, -1.64, -1.69, -1.64, -1.71, -1.67, -1.74, -1.7, -1.76,
  -1.73, -1.8, -1.77, -1.84, -1.8, -1.85, -1.78, -1.81, -1.74, -1.77, -1.69, -1.72, -1.65, -1.68, -1.62, null,
  null, null, null, -1.88, -1.94, -1.88, -1.9, null, null, null, -1.58, -1.47, -1.37, -1.27, -1.21, -1.21, -1.25,
  -1.31, -1.38, -1.46, -1.54, -1.62, -1.7, -1.76, -1.8, -1.84, -1.85, -1.88, -1.83, -1.82, -1.79, -1.76,
  -1.73, -1.69, -1.65, -1.63, -1.6, -1.59, -1.56, -1.59, -1.6, -1.63, -1.67, -1.7, -1.72, -1.7, -1.7,
  -1.68, -1.66, null, -1.62, -1.58, null, null, -1.66, null, null, -1.8, -1.81, -1.85, -1.89, null, -1.9,
  -1.93, -1.96, -1.96, -1.98, -2.0, -2.04, null, null, -1.88, -1.92, -1.88, -1.87, -1.85, -1.82, -1.85, -1.82,
  -1.86, -1.84, -1.88, -1.86, -1.9, -1.91, -1.96, -2.0, -2.06, -2.07, null, null, null, -2.15, -2.14, -2.02,
  -1.88, -1.74, -1.63, -1.54, -1.47, -1.41, -1.37, -1.34, -1.37, -1.37, -1.41, -1.46, -1.51, -1.57, -1.63, -1.66,
  -1.7, -1.7, -1.7, -1.66, -1.61, -1.58, -1.56, -1.55, -1.54, -1.56, -1.56, -1.58, -1.6, -1.61, -1.63,
  -1.65, -1.67, -1.65, -1.67, null, -1.65, -1.63, null, -1.6, null, -1.63, null, null, null, null, -1.78,
  -1.82, -1.85, -1.83, -1.8, -1.76, -1.71, -1.67, -1.64, -1.6, -1.58, -1.56, -1.55, -1.53, -1.54, -1.51,
  -1.51, -1.49, -1.5, -1.48, -1.52, -1.55, -1.57, -1.59, -1.61, -1.63, -1.62, -1.65, -1.64, -1.67, -1.69, -1.71,
  -1.76, null,
];
const POT_C1_FROM = 7, POT_C1_STEP = 7;
const POT_C1 = [
  -0.56, -0.6, -0.58, -0.54, -0.5, -0.48, -0.46, -0.44, -0.42, -0.4, -0.38, -0.38, -0.42, -0.48, -0.52, -0.56,
  -0.6, -0.6, -0.58, -0.55, -0.52, -0.48, -0.45, -0.43, -0.42, -0.4, -0.39, -0.38, -0.37, -0.35, -0.33, -0.31,
  -0.35, -0.42, -0.5, -0.57, -0.61, -0.63, -0.6, -0.55, -0.46, -0.3, -0.16, -0.06, 0.02, 0.1, 0.18, 0.25, 0.28,
  0.22, 0.12, 0.03, -0.06, -0.16, -0.25, -0.34, -0.42, -0.48, -0.55, -0.6, -0.62, -0.6, -0.55, -0.5, -0.47,
  -0.44, -0.4, -0.35, -0.31, -0.28, -0.26, -0.25, -0.28, -0.32, -0.36, -0.41, -0.46, -0.5, -0.5, -0.48, -0.46,
  -0.44, -0.41, -0.38, -0.37, -0.37, -0.37, -0.38, -0.4, -0.42, -0.44, -0.47, -0.5, -0.53, -0.57, -0.62, -0.68,
  -0.76, -0.83, -0.9, -0.94, -0.92, -0.85, -0.78, -0.76, -0.72, -0.68, -0.64, -0.6, -0.57, -0.55, -0.53, -0.52,
  -0.54, -0.6, -0.65, -0.7, -0.74, -0.8, -0.84, -0.88, -0.92, -0.96, -1.0, -1.05, -0.98, -0.9, -0.78, -0.64,
  -0.46, -0.32, -0.2, -0.1, -0.02, 0.03, 0.05, 0.04, 0.0, -0.05, -0.14, -0.22, -0.32, -0.4, -0.42, -0.4, -0.36,
  -0.33, -0.3, -0.27, -0.24, -0.21, -0.2, -0.2, -0.22, -0.25, -0.28, -0.3, -0.31, -0.32, -0.32, -0.33, -0.33,
  -0.34, -0.34, -0.35, -0.35, -0.35, -0.36, -0.37, -0.38, -0.42, -0.47, -0.5, -0.52, -0.52, -0.51, -0.5, -0.48,
  -0.46, -0.44, -0.41, -0.37, -0.33, -0.29, -0.26, -0.24, -0.22, -0.21, -0.19, -0.17, -0.14, -0.12, -0.1,
  -0.09, -0.1, -0.14, -0.19, -0.24, -0.28, -0.31, -0.34, -0.37, -0.4, -0.43, -0.47, -0.52, -0.58,
];
const POT_C1_2_FROM = 10, POT_C1_2_STEP = 7;
const POT_C1_2 = [
  -0.6, -0.56, -0.62, -0.5, -0.53, -0.45, -0.49, -0.41, -0.45, -0.37, -0.41, -0.35, -0.45, -0.5, -0.55, -0.58,
  -0.63, -0.57, -0.61, -0.52, -0.55, -0.45, -0.48, -0.4, -0.45, -0.37, -0.42, -0.35, -0.39, -0.32, -0.35, -0.3,
  -0.38, -0.46, -0.54, -0.6, -0.64, -0.61, -0.58, -0.51, -0.38, -0.22, -0.1, -0.02, 0.06, 0.14, 0.22, 0.27, 0.25,
  0.17, 0.07, -0.02, -0.11, -0.2, -0.3, -0.38, -0.45, -0.52, -0.58, -0.61, -0.6, -0.58, -0.52, -0.49, -0.45,
  -0.42, -0.37, -0.33, -0.29, -0.27, -0.24, -0.27, -0.3, -0.34, -0.39, -0.44, -0.48, -0.52, -0.48, -0.47, -0.43,
  -0.43, -0.39, -0.39, -0.35, -0.39, -0.35, -0.4, -0.38, -0.44, -0.42, -0.49, -0.51, -0.55, -0.6, -0.65, -0.72,
  -0.8, -0.87, -0.92, -0.93, -0.88, -0.81, -0.77, -0.74, -0.7, -0.66, -0.62, -0.58, -0.56, -0.54, -0.52, -0.53,
  -0.57, -0.63, -0.68, -0.72, -0.77, -0.82, -0.86, -0.9, -0.94, -0.98, -1.03, -1.02, -0.94, -0.84, -0.71, -0.55,
  -0.39, -0.26, -0.15, -0.06, 0.01, 0.04, 0.06, 0.02, -0.03, -0.09, -0.18, -0.27, -0.36, -0.41, -0.41, -0.38, -0.35,
  -0.31, -0.28, -0.26, -0.22, -0.2, -0.19, -0.21, -0.24, -0.26, -0.29, -0.31, -0.3, -0.33, -0.31, -0.34, -0.32,
  -0.35, -0.33, -0.36, -0.34, -0.37, -0.35, -0.38, -0.4, -0.45, -0.49, -0.51, -0.53, -0.51, -0.5, -0.49, -0.47,
  -0.45, -0.42, -0.39, -0.35, -0.31, -0.27, -0.25, -0.23, -0.21, -0.2, -0.18, -0.15, -0.13, -0.11, -0.09,
  -0.12, -0.12, -0.17, -0.21, -0.26, -0.3, -0.33, -0.36, -0.39, -0.42, -0.45, -0.5, -0.55, null,
];
const POT_C2_FROM = 7, POT_C2_STEP = 9;
const POT_C2 = [
  0.24, 0.2, 0.26, 0.3, 0.35, 0.4, 0.43, 0.43, 0.4, 0.36, 0.34, 0.31, 0.26, 0.22, 0.2, 0.24, 0.3, 0.33, 0.36,
  0.38, 0.45, 0.52, 0.55, 0.5, 0.44, 0.38, 0.34, 0.31, 0.3, 0.32, 0.34, 0.4, 0.52, 0.7, 0.85, 0.97, 1.05, 1.0,
  0.92, 0.85, 0.78, 0.7, 0.62, 0.52, 0.42, 0.34, 0.28, 0.24, 0.22, 0.26, 0.3, 0.36, 0.42, 0.48, 0.54, 0.6, 0.62,
  0.6, 0.55, 0.5, 0.44, 0.38, 0.32, 0.3, 0.35, 0.4, 0.48, 0.55, 0.62, 0.66, 0.62, 0.55, 0.48, 0.43, 0.4, 0.38,
  0.35, 0.3, 0.18, 0.05, -0.04, -0.08, -0.02, 0.05, 0.12, 0.22, 0.28, 0.33, 0.36, 0.37, 0.36, 0.32, 0.24, 0.14,
  0.05, -0.04, -0.12, -0.15, -0.06, 0.08, 0.25, 0.48, 0.68, 0.82, 0.92, 0.96, 0.92, 0.82, 0.7, 0.6, 0.52, 0.45,
  0.4, 0.45, 0.52, 0.58, 0.62, 0.65, 0.64, 0.6, 0.57, 0.53, 0.5, 0.47, 0.45, 0.44, 0.43, 0.43, 0.44, 0.44,
  0.45, 0.45, 0.43, 0.38, 0.32, 0.26, 0.21, 0.22, 0.3, 0.38, 0.44, 0.5, 0.54, 0.58, 0.6, 0.61, 0.62, 0.63,
  0.65, 0.66, 0.65, 0.62, 0.6, 0.57, 0.54, 0.48, 0.4, 0.34, 0.3, 0.26, 0.2,
];
const POT_C3_FROM = 7, POT_C3_STEP = 12;
const POT_C3 = [
  0.93, 1.02, 1.08, 1.12, 1.2, 1.35, 1.4, null, 1.0, 0.93, 0.95, 1.0, 1.05, 1.1, 1.15, 1.2, 1.18, 1.05, 1.1,
  1.15, 1.05, 0.98, 0.93, 1.0, 1.1, 1.3, 1.5, 1.62, 1.5, 1.3, 1.12, 0.95, 0.8, 0.62, 0.7, 0.88, 1.02, 1.12,
  1.25, 1.22, 1.15, 1.1, 1.12, 1.15, 1.12, 1.05, 1.0, 1.0, 1.05, 1.1, 1.15, 1.22, 1.27, 1.33, 1.2, 1.1, 1.05,
  0.95, 0.8, 0.65, 0.5, 0.45, 0.6, 0.75, 0.9, 0.95, 0.93, 1.0, 1.1, 1.06, 1.0, 0.95, 0.7, 0.5, 0.48, 0.66, 0.82,
  1.0, 1.15, 1.28, 1.33, 1.38, 1.4, 1.3, 1.15, 1.08, 1.2, 1.32, 1.32, 1.3, 1.25, 1.22, 1.22, 1.2, 1.17, 1.18,
  1.22, 1.2, 1.15, 1.08, 1.0, 0.88, 0.82, 0.9, 0.95, 1.05, 1.12, 1.15, 1.25, 1.4, 1.43, 1.43, 1.42, 1.4, 1.3,
  1.22, 1.1, 1.0, 0.93, 1.1, 0.82,
];
const POT_TOP: [number, number][] = [
  [9, 2.09], [35, 1.4], [57, 1.52], [61, 1.86], [79, 1.75], [105, 2.63], [120, 2.09], [134, 2.0], [152, 1.9],
  [174, 2.06], [178, 1.75], [193, 1.83], [200, 1.64], [247, 2.56], [254, 1.52], [276, 2.5], [284, 1.48],
  [320, 2.38], [342, 2.0], [354, 1.8], [387, 1.77], [391, 1.64], [412, 1.9], [422, 1.5], [462, 2.04],
  [463, 2.5], [508, 2.5], [540, 2.2], [543, 1.75], [555, 1.5], [569, 2.15], [635, 1.72], [657, 2.5],
  [664, 2.98], [679, 1.72], [693, 1.16], [720, 2.15], [734, 2.25], [752, 2.0], [766, 1.42], [781, 1.55],
  [810, 2.5], [847, 2.5], [861, 1.22], [880, 1.48], [897, 2.0], [913, 2.15], [927, 2.06], [949, 1.45],
  [971, 1.64], [985, 1.75], [1007, 1.75], [1029, 1.8], [1044, 1.9], [1066, 1.9], [1088, 1.9], [1110, 1.22],
  [1125, 1.75], [1130, 1.7], [1183, 1.85], [1198, 1.85], [1220, 2.0], [1222, 1.48], [1249, 2.2], [1271, 1.64],
  [1300, 1.9], [1373, 2.6], [1395, 1.22], [1422, 1.7], [1432, 3.78], [1447, 2.0], [1454, 0.85],
];

const YEARS_A = [2003, 2004, 2005, 2006, 2007];
const YEARS_B = [2004, 2005, 2006, 2007];
const Y_TICKS_TYN = [-4, -2, 0, 2, 4];
const Y_TICKS_NOR = [-2, -1, 0, 1, 2, 3];
const Y_TICKS_NOT = [-2, 0, 2, 4];
const Y_TICKS_POT = [-2, 0, 2, 4];

// ---------------- HELPERS ----------------
const DAY = 86400000;
type Pt = { t: number; v: number };

function seg(base: number, from: number, step: number, vals: (number | null)[]): Pt[] {
  const out: Pt[] = [];
  vals.forEach((v, i) => {
    if (v !== null && v !== undefined) out.push({ t: base + (from + i * step) * DAY, v });
  });
  return out;
}
function pairs(base: number, list: [number, number][]): Pt[] {
  return list.map(([d, v]) => ({ t: base + d * DAY, v }));
}

const B2003 = Date.UTC(2003, 0, 1);
const B2004 = Date.UTC(2004, 0, 1);

type PanelSpec = {
  title: string;
  plot: { x0: number; x1: number; y0: number; y1: number };
  years: number[];
  xRange: [number, number];
  yTicks: number[];
  yPx: [number, number];
  titleX: number;
  clip: { x: number; w: number };
  points: Pt[];
};

const PANELS: PanelSpec[] = [
  {
    title: 'Tyneside',
    plot: { x0: 87, x1: 442, y0: 68, y1: 268 },
    years: YEARS_A, xRange: [99, 431],
    yTicks: Y_TICKS_TYN, yPx: [258, 79],
    titleX: 266.5, clip: { x: 0, w: 459 },
    points: [
      ...seg(B2003, TYN_A_FROM, TYN_A_STEP, TYN_A),
      ...seg(B2003, TYN_A2_FROM, TYN_A2_STEP, TYN_A2),
      ...seg(B2003, TYN_B_FROM, TYN_B_STEP, TYN_B),
      ...seg(B2003, TYN_B2_FROM, TYN_B2_STEP, TYN_B2),
      ...seg(B2003, TYN_C_FROM, TYN_C_STEP, TYN_C),
      ...seg(B2003, TYN_C2_FROM, TYN_C2_STEP, TYN_C2),
      ...pairs(B2003, TYN_D),
    ],
  },
  {
    title: 'Norwich',
    plot: { x0: 527, x1: 881, y0: 68, y1: 268 },
    years: YEARS_B, xRange: [537, 870],
    yTicks: Y_TICKS_NOR, yPx: [258, 79],
    titleX: 703.5, clip: { x: 459, w: 454 },
    points: [
      ...seg(B2004, NOR_C0_A_FROM, NOR_C0_A_STEP, NOR_C0_A),
      ...seg(B2004, NOR_C0_A2_FROM, NOR_C0_A2_STEP, NOR_C0_A2),
      ...seg(B2004, NOR_C0_B_FROM, NOR_C0_B_STEP, NOR_C0_B),
      ...seg(B2004, NOR_C0_B2_FROM, NOR_C0_B2_STEP, NOR_C0_B2),
      ...seg(B2004, NOR_C1_A_FROM, NOR_C1_A_STEP, NOR_C1_A),
      ...seg(B2004, NOR_C1_A2_FROM, NOR_C1_A2_STEP, NOR_C1_A2),
      ...seg(B2004, NOR_C1_B_FROM, NOR_C1_B_STEP, NOR_C1_B),
      ...seg(B2004, NOR_C1_B2_FROM, NOR_C1_B2_STEP, NOR_C1_B2),
      ...seg(B2004, NOR_C2_B_FROM, NOR_C2_B_STEP, NOR_C2_B),
      ...pairs(B2004, NOR_TOP),
    ],
  },
  {
    title: 'Nottingham',
    plot: { x0: 87, x1: 442, y0: 382, y1: 584 },
    years: YEARS_A, xRange: [99, 431],
    yTicks: Y_TICKS_NOT, yPx: [572, 393],
    titleX: 266.5, clip: { x: 0, w: 459 },
    points: [
      ...seg(B2003, NOT_C0_A_FROM, NOT_C0_A_STEP, NOT_C0_A),
      ...seg(B2003, NOT_C0_A2_FROM, NOT_C0_A2_STEP, NOT_C0_A2),
      ...seg(B2003, NOT_C0_B_FROM, NOT_C0_B_STEP, NOT_C0_B),
      ...seg(B2003, NOT_C0_B2_FROM, NOT_C0_B2_STEP, NOT_C0_B2),
      ...seg(B2003, NOT_C1_A_FROM, NOT_C1_A_STEP, NOT_C1_A),
      ...seg(B2003, NOT_C1_A2_FROM, NOT_C1_A2_STEP, NOT_C1_A2),
      ...seg(B2003, NOT_C1_B_FROM, NOT_C1_B_STEP, NOT_C1_B),
      ...seg(B2003, NOT_C1_B2_FROM, NOT_C1_B2_STEP, NOT_C1_B2),
      ...seg(B2003, NOT_C2_A_FROM, NOT_C2_A_STEP, NOT_C2_A),
      ...seg(B2003, NOT_C2_B_FROM, NOT_C2_B_STEP, NOT_C2_B),
      ...pairs(B2003, NOT_TOP),
    ],
  },
  {
    title: 'Potteries',
    plot: { x0: 527, x1: 881, y0: 382, y1: 584 },
    years: YEARS_A, xRange: [537, 870],
    yTicks: Y_TICKS_POT, yPx: [567, 393],
    titleX: 703.5, clip: { x: 459, w: 454 },
    points: [
      ...seg(B2003, POT_C0_FROM, POT_C0_STEP, POT_C0),
      ...seg(B2003, POT_C0_2_FROM, POT_C0_2_STEP, POT_C0_2),
      ...seg(B2003, POT_C1_FROM, POT_C1_STEP, POT_C1),
      ...seg(B2003, POT_C1_2_FROM, POT_C1_2_STEP, POT_C1_2),
      ...seg(B2003, POT_C2_FROM, POT_C2_STEP, POT_C2),
      ...seg(B2003, POT_C3_FROM, POT_C3_STEP, POT_C3),
      ...pairs(B2003, POT_TOP),
    ],
  },
];

const FONT = "'Liberation Sans', Arial, Helvetica, sans-serif";
const MARKER = '#1a476f';
const GRID = '#eaf2f3';
const AXIS = '#3a3a3a';
const TITLE = '#1c2b52';
const fmtDate = d3.utcFormat('%d%b%Y');

function Panel({ p, idx }: { p: PanelSpec; idx: number }) {
  const x = d3
    .scaleUtc()
    .domain([Date.UTC(p.years[0], 0, 1), Date.UTC(p.years[p.years.length - 1], 0, 1)])
    .range(p.xRange);
  const y = d3
    .scaleLinear()
    .domain([p.yTicks[0], p.yTicks[p.yTicks.length - 1]])
    .range(p.yPx);
  const { x0, x1, y0, y1 } = p.plot;
  const cid = `clip-${idx}`;
  const midY = (y0 + y1) / 2;
  return (
    <g clipPath={`url(#${cid})`}>
      <defs>
        <clipPath id={cid}>
          <rect x={p.clip.x} y={0} width={p.clip.w} height={662} />
        </clipPath>
      </defs>
      <rect x={x0} y={y0} width={x1 - x0} height={y1 - y0} fill="#ffffff" />
      {p.yTicks.map((t) => (
        <line key={'g' + t} x1={x0} x2={x1} y1={y(t)} y2={y(t)} stroke={GRID} strokeWidth={1.8} />
      ))}
      {p.points.map((d, i) => (
        <circle key={i} cx={x(d.t)} cy={y(d.v)} r={1.75} fill={MARKER} />
      ))}
      <line x1={x0} x2={x0} y1={y0} y2={y1} stroke={AXIS} strokeWidth={1.2} />
      <line x1={x0} x2={x1} y1={y1} y2={y1} stroke={AXIS} strokeWidth={1.2} />
      {p.yTicks.map((t) => (
        <g key={'yt' + t}>
          <line x1={x0 - 8} x2={x0} y1={y(t)} y2={y(t)} stroke={AXIS} strokeWidth={1.2} />
          <text
            x={x0 - 19}
            y={y(t)}
            dy="0.35em"
            transform={`rotate(-90, ${x0 - 19}, ${y(t)})`}
            textAnchor="middle"
            fontSize={16}
            fill="#111"
          >
            {String(t)}
          </text>
        </g>
      ))}
      {p.years.map((yr) => {
        const xx = x(Date.UTC(yr, 0, 1));
        return (
          <g key={'xt' + yr}>
            <line x1={xx} x2={xx} y1={y1} y2={y1 + 8} stroke={AXIS} strokeWidth={1.2} />
            <text x={xx} y={y1 + 25} textAnchor="middle" fontSize={16} fill="#111">
              {fmtDate(new Date(Date.UTC(yr, 0, 1))).toLowerCase()}
            </text>
          </g>
        );
      })}
      <text x={(x0 + x1) / 2} y={y1 + 43.5} textAnchor="middle" fontSize={16} fill="#111">
        date
      </text>
      <text
        x={x0 - 39}
        y={midY}
        dy="0.35em"
        transform={`rotate(-90, ${x0 - 39}, ${midY})`}
        textAnchor="middle"
        fontSize={16}
        fill="#111"
      >
        deviance residual
      </text>
      <text x={p.titleX} y={y0 - 8} textAnchor="middle" fontSize={24} fill={TITLE}>
        {p.title}
      </text>
    </g>
  );
}

export default function App() {
  return (
    <svg
      width={913}
      height={662}
      style={{ position: 'absolute', left: 0, top: 0, background: '#ffffff' }}
      fontFamily={FONT}
    >
      <rect x={6} y={5} width={907} height={655} fill="#eaf2f3" />
      {PANELS.map((p, i) => (
        <Panel key={p.title} p={p} idx={i} />
      ))}
    </svg>
  );
}
